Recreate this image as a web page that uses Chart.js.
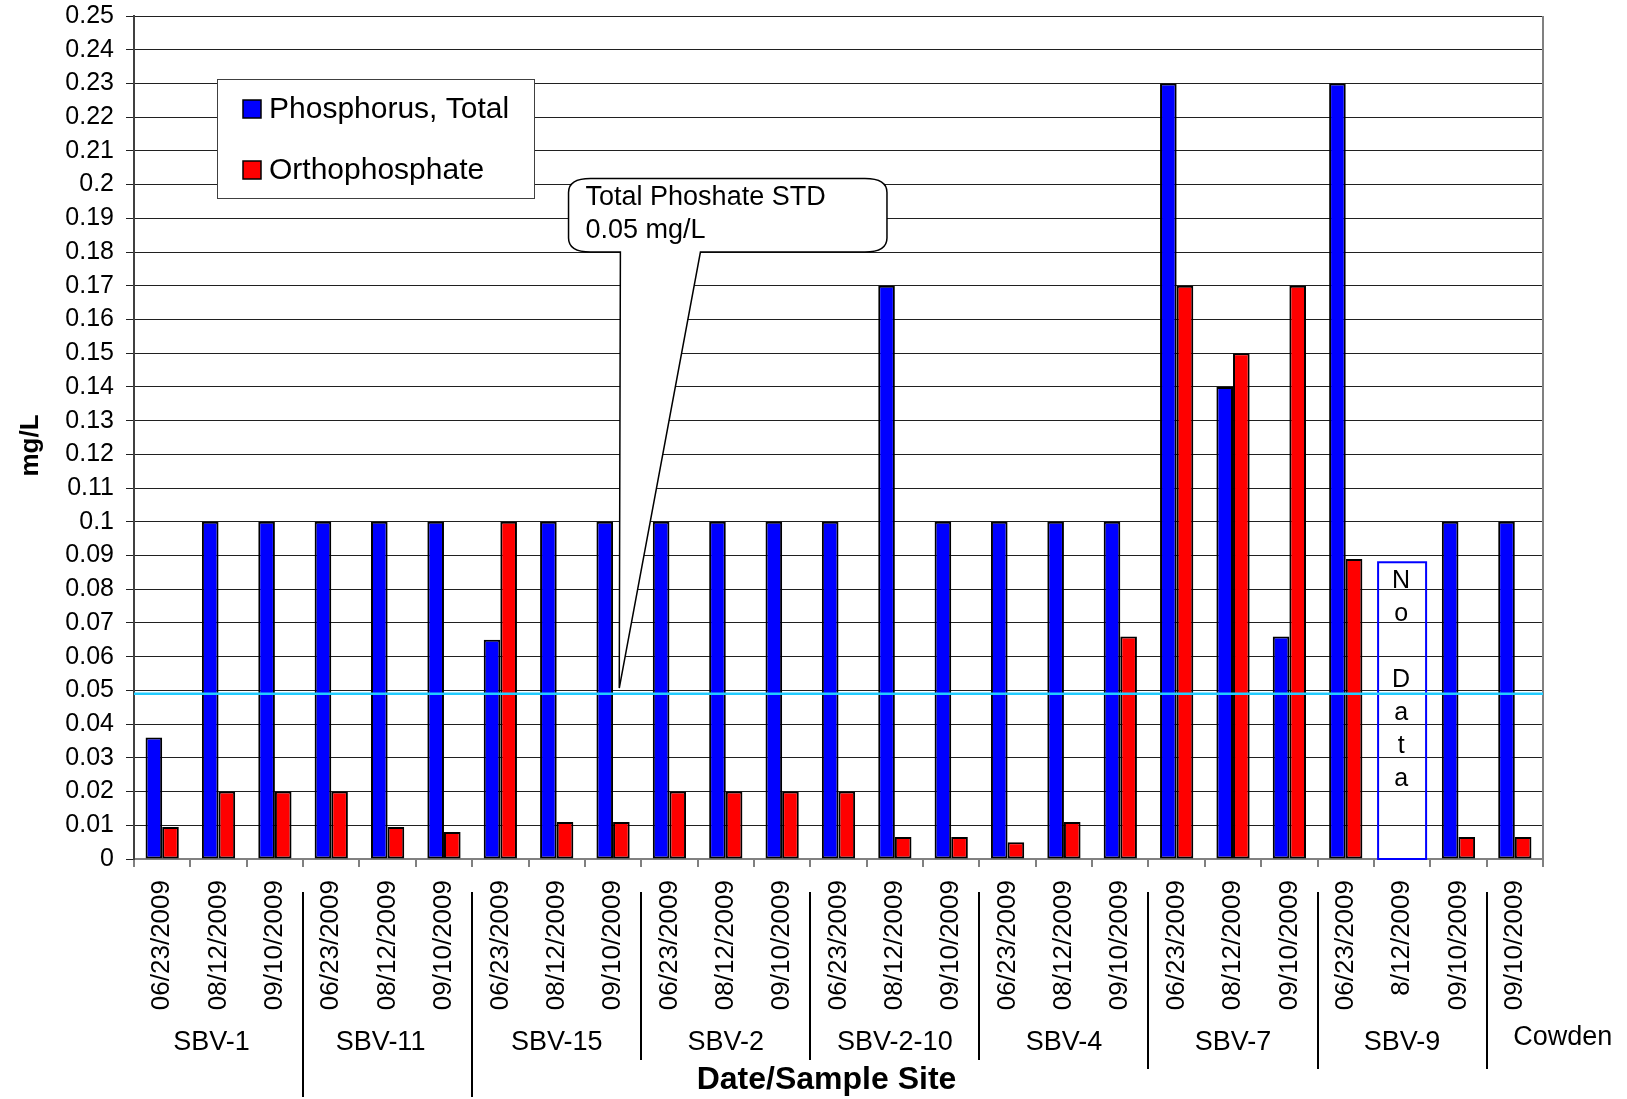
<!DOCTYPE html>
<html><head><meta charset="utf-8">
<script src="https://cdn.jsdelivr.net/npm/chart.js@4"></script>
<style>html,body{margin:0;padding:0;background:#fff}</style>
</head><body>
<canvas id="c" width="1627" height="1099" style="width:1627px;height:1099px;display:block"></canvas>
<script>
// ---------- data ----------
const categories = [
  '06/23/2009','08/12/2009','09/10/2009',
  '06/23/2009','08/12/2009','09/10/2009',
  '06/23/2009','08/12/2009','09/10/2009',
  '06/23/2009','08/12/2009','09/10/2009',
  '06/23/2009','08/12/2009','09/10/2009',
  '06/23/2009','08/12/2009','09/10/2009',
  '06/23/2009','08/12/2009','09/10/2009',
  '06/23/2009','8/12/2009','09/10/2009',
  '09/10/2009'
];
const sites = ['SBV-1','SBV-11','SBV-15','SBV-2','SBV-2-10','SBV-4','SBV-7','SBV-9','Cowden'];
const siteCounts = [3,3,3,3,3,3,3,3,1];
const phosphorusTotal = [
  0.036,0.1,0.1,
  0.1,0.1,0.1,
  0.065,0.1,0.1,
  0.1,0.1,0.1,
  0.1,0.17,0.1,
  0.1,0.1,0.1,
  0.23,0.14,0.066,
  0.23,null,0.1,
  0.1
];
const orthophosphate = [
  0.0095,0.02,0.02,
  0.02,0.0095,0.008,
  0.1,0.011,0.011,
  0.02,0.02,0.02,
  0.02,0.0065,0.0065,
  0.005,0.011,0.066,
  0.17,0.15,0.17,
  0.089,null,0.0065,
  0.0065
];
const seriesNames = ['Phosphorus, Total','Orthophosphate'];
const yMin = 0, yMax = 0.25, yStep = 0.01;
const stdValue = 0.049;
const calloutLines = ['Total Phoshate STD','0.05 mg/L'];
const noDataIndex = 22;
const noDataTop = 0.088;
const noDataLetters = ['N','o','','D','a','t','a'];
const xTitle = 'Date/Sample Site';
const yTitle = 'mg/L';

const FONT = '"Liberation Sans", Arial, sans-serif';

const extras = {
  id: 'extras',
  beforeDraw(chart) {
    const ctx = chart.ctx;
    ctx.save();
    ctx.fillStyle = '#fff';
    ctx.fillRect(0, 0, chart.width, chart.height);
    ctx.restore();
  },
  afterDatasetsDraw(chart) {
    const ctx = chart.ctx, a = chart.chartArea;
    const xs = chart.scales.x, ys = chart.scales.y;
    ctx.save();
    ctx.strokeStyle = '#808080'; ctx.lineWidth = 2;
    ctx.beginPath(); ctx.moveTo(a.right, a.top); ctx.lineTo(a.right, a.bottom + 8); ctx.stroke();
    // No data box
    const nx = xs.getPixelForValue(noDataIndex);
    const nt = ys.getPixelForValue(noDataTop), nb = ys.getPixelForValue(0);
    ctx.strokeStyle = '#0000FF'; ctx.lineWidth = 2;
    ctx.strokeRect(nx - 24, nt, 48, nb - nt);
    ctx.fillStyle = '#000'; ctx.font = '25px ' + FONT;
    ctx.textAlign = 'center'; ctx.textBaseline = 'middle';
    noDataLetters.forEach((ch, i) => ctx.fillText(ch, nx - 1, nt + 19 + i * 33));
    // STD line
    const sy = ys.getPixelForValue(stdValue);
    ctx.strokeStyle = '#22CCFF'; ctx.lineWidth = 2.5;
    ctx.beginPath(); ctx.moveTo(a.left, sy); ctx.lineTo(a.right, sy); ctx.stroke();
    ctx.restore();
  },
  afterDraw(chart) {
    const ctx = chart.ctx, a = chart.chartArea;
    const xs = chart.scales.x, ys = chart.scales.y;
    ctx.save();
    // callout
    const L = xs.getPixelForValue(7.21), R = xs.getPixelForValue(12.86);
    const T = ys.getPixelForValue(0.2018), B = ys.getPixelForValue(0.180);
    const t1 = xs.getPixelForValue(8.13), t2 = xs.getPixelForValue(9.55);
    const tipX = xs.getPixelForValue(8.11), tipY = ys.getPixelForValue(0.0507);
    const rx = 22, ry = 14;
    ctx.beginPath();
    ctx.moveTo(L + rx, T);
    ctx.lineTo(R - rx, T); ctx.quadraticCurveTo(R, T, R, T + ry);
    ctx.lineTo(R, B - ry); ctx.quadraticCurveTo(R, B, R - rx, B);
    ctx.lineTo(t2, B); ctx.lineTo(tipX, tipY); ctx.lineTo(t1, B);
    ctx.lineTo(L + rx, B); ctx.quadraticCurveTo(L, B, L, B - ry);
    ctx.lineTo(L, T + ry); ctx.quadraticCurveTo(L, T, L + rx, T);
    ctx.closePath();
    ctx.fillStyle = '#fff'; ctx.fill();
    ctx.strokeStyle = '#000'; ctx.lineWidth = 1.5; ctx.stroke();
    ctx.fillStyle = '#000'; ctx.font = '27px ' + FONT;
    ctx.textAlign = 'left'; ctx.textBaseline = 'middle';
    ctx.fillText(calloutLines[0], L + 17, T + 19);
    ctx.fillText(calloutLines[1], L + 17, T + 52);

    // legend
    const lx = a.left + 83, ly = a.top + 63;
    ctx.fillStyle = '#fff'; ctx.fillRect(lx, ly, 317, 119);
    ctx.strokeStyle = '#404040'; ctx.lineWidth = 1; ctx.strokeRect(lx + 0.5, ly + 0.5, 317, 119);
    const cols = ['#0000FF', '#FF0000'];
    ctx.font = '30px ' + FONT; ctx.textBaseline = 'middle';
    seriesNames.forEach((n, i) => {
      const yy = ly + 21 + i * 61;
      ctx.fillStyle = cols[i]; ctx.fillRect(lx + 26, yy, 18, 18);
      ctx.strokeStyle = '#000'; ctx.lineWidth = 1.5; ctx.strokeRect(lx + 26, yy, 18, 18);
      ctx.fillStyle = '#000'; ctx.fillText(n, lx + 52, yy + 10);
    });

    // group labels & separators
    const sepBottoms = [1097, 1097, 1060, 1060, 1060, 1069, 1069, 1069];
    let start = 0;
    ctx.font = '27px ' + FONT; ctx.textAlign = 'center'; ctx.textBaseline = 'middle';
    sites.forEach((s, i) => {
      const cnt = siteCounts[i];
      const cx = xs.getPixelForValue(start + (cnt - 1) / 2);
      const isLast = i === sites.length - 1;
      ctx.fillStyle = '#000';
      ctx.fillText(s, isLast ? cx + 48 : cx - (i < 2 ? 7 : 0), isLast ? 1038 : 1043);
      if (!isLast) {
        const bx = Math.round(xs.getPixelForValue(start + cnt - 0.5));
        ctx.strokeStyle = '#000'; ctx.lineWidth = 2;
        ctx.beginPath(); ctx.moveTo(bx, 892); ctx.lineTo(bx, sepBottoms[i]); ctx.stroke();
      }
      start += cnt;
    });

    // axis titles
    ctx.font = 'bold 32px ' + FONT;
    ctx.fillText(xTitle, (a.left + a.right) / 2 - 12, 1080);
    ctx.translate(31, (a.top + a.bottom) / 2 + 8);
    ctx.rotate(-Math.PI / 2);
    ctx.font = 'bold 26px ' + FONT;
    ctx.fillText(yTitle, 0, 0);
    ctx.restore();
  }
};

new Chart(document.getElementById('c'), {
  type: 'bar',
  data: {
    labels: categories,
    datasets: [
      { label: seriesNames[0], data: phosphorusTotal, backgroundColor: '#0000FF', borderColor: '#000', borderWidth: 2, borderSkipped: false },
      { label: seriesNames[1], data: orthophosphate, backgroundColor: '#FF0000', borderColor: '#000', borderWidth: 2, borderSkipped: false }
    ]
  },
  options: {
    responsive: false, animation: false, devicePixelRatio: 1,
    categoryPercentage: 0.59, barPercentage: 1.0,
    layout: { padding: { left: 0, right: 84, top: 16, bottom: 0 } },
    plugins: { legend: { display: false }, tooltip: { enabled: false } },
    scales: {
      x: {
        grid: { offset: true, drawOnChartArea: false, drawTicks: true, tickLength: 8, color: '#808080', lineWidth: 2 },
        border: { color: '#808080', width: 2 },
        ticks: { autoSkip: false, maxRotation: 90, minRotation: 90, padding: 13, color: '#000', font: { family: FONT, size: 26 } },
        afterFit(s) { s.height = 240; s.paddingLeft = 0; s.paddingRight = 0; }
      },
      y: {
        min: yMin, max: yMax,
        ticks: { stepSize: yStep, color: '#000', padding: 12, font: { family: FONT, size: 25 },
          callback: v => String(Math.round(v * 100) / 100) },
        grid: { color: '#202020', lineWidth: 1, tickLength: 8 },
        border: { color: '#404040', width: 2 },
        afterFit(s) { s.width = 134; s.paddingTop = 0; s.paddingBottom = 0; }
      }
    }
  },
  plugins: [extras]
});
</script>
</body></html>
